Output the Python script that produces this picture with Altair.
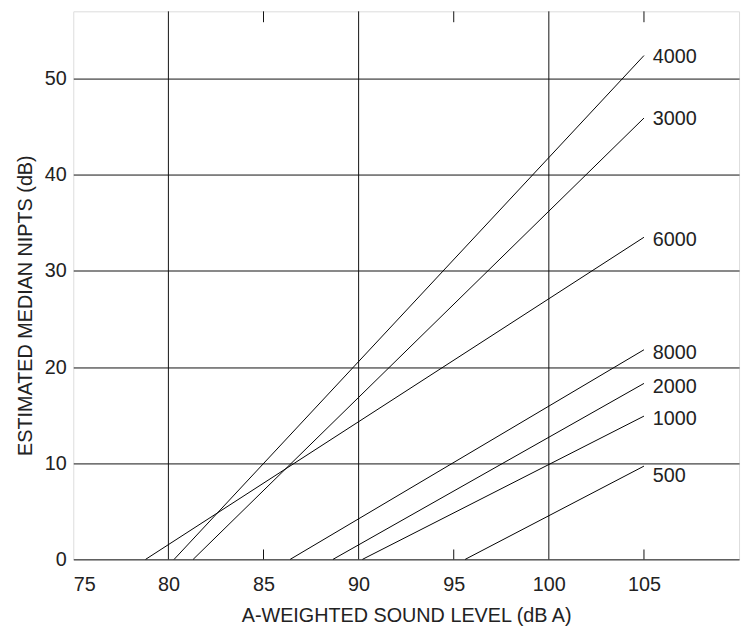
import altair as alt
import pandas as pd

# ---- data ----
freqs = ["4000", "3000", "6000", "8000", "2000", "1000", "500"]
x_start = [80.3, 81.3, 78.8, 86.4, 88.65, 90.2, 95.6]   # where each line leaves 0 dB
x_end = [105, 105, 105, 105, 105, 105, 105]
y_end = [52.4, 45.9, 33.5, 21.8, 18.3, 14.9, 9.7]
label_y = [52.2, 45.8, 33.2, 21.5, 17.9, 14.6, 8.7]
x_ticks = [75, 80, 85, 90, 95, 100, 105]
y_ticks = [0, 10, 20, 30, 40, 50]
grid_x = [80, 90, 100]
minor_x = [85, 95, 105]

W, H = 673, 554
FONT = "Liberation Sans"
TXT = "#222222"
FS = 20

rows = []
for f, xs, xe, ye in zip(freqs, x_start, x_end, y_end):
    rows.append({"freq": f, "x": xs, "y": 0.0, "o": 0})
    rows.append({"freq": f, "x": xe, "y": ye, "o": 1})
lines_df = pd.DataFrame(rows)
labels_df = pd.DataFrame({"freq": freqs, "x": x_end, "y": label_y})
grid_df = pd.DataFrame({"x": grid_x})
minor_df = pd.DataFrame({"x": minor_x})

xscale = alt.Scale(domain=[75, 110], nice=False, zero=False)
yscale = alt.Scale(domain=[0, 57], nice=False, zero=False)

xaxis = alt.Axis(values=x_ticks, grid=False, ticks=False, domain=False,
                 labelFontSize=FS, labelFont=FONT, labelColor=TXT, labelPadding=15,
                 title="A-WEIGHTED SOUND LEVEL (dB A)", titleFontSize=FS,
                 titleFont=FONT, titleFontWeight="normal", titleColor=TXT,
                 titleBaseline="alphabetic", titleY=63)
yaxis = alt.Axis(values=y_ticks, grid=True, gridColor="#111111", gridOpacity=1,
                 gridWidth=1, ticks=False, domain=False,
                 labelFontSize=FS, labelFont=FONT, labelColor=TXT, labelPadding=7,
                 title="ESTIMATED MEDIAN NIPTS (dB)", titleFontSize=FS,
                 titleFont=FONT, titleFontWeight="normal", titleColor=TXT,
                 titleAngle=270, titleAlign="center", titleBaseline="alphabetic",
                 titleX=-42, titleY=297)

X = lambda f="x": alt.X(f"{f}:Q", scale=xscale, axis=xaxis)

grid = alt.Chart(grid_df).mark_rule(color="#111111", strokeWidth=1).encode(x=X())

ticks_bottom = alt.Chart(minor_df).mark_rule(color="#111111", strokeWidth=1).encode(
    x=X(), y=alt.value(H), y2=alt.value(H - 10))
ticks_top = alt.Chart(minor_df).mark_rule(color="#111111", strokeWidth=1).encode(
    x=X(), y=alt.value(0), y2=alt.value(11))

lines = alt.Chart(lines_df).mark_line(color="black", strokeWidth=1).encode(
    x=X(),
    y=alt.Y("y:Q", scale=yscale, axis=yaxis),
    detail="freq:N",
    order="o:Q",
)

labels = alt.Chart(labels_df).mark_text(
    align="left", baseline="middle", dx=9, fontSize=FS, font=FONT, color=TXT
).encode(
    x=X(),
    y=alt.Y("y:Q", scale=yscale, axis=yaxis),
    text="freq:N",
)

chart = alt.layer(grid, ticks_bottom, ticks_top, lines, labels).properties(
    width=W, height=H,
    autosize=alt.AutoSizeParams(type="none"),
    padding={"left": 66, "top": 0, "right": 6, "bottom": 66},
).configure_view(stroke="#333333", strokeWidth=1.5).configure(background="white")

chart.save("out.html", embed_options={"renderer": "svg", "actions": False})
